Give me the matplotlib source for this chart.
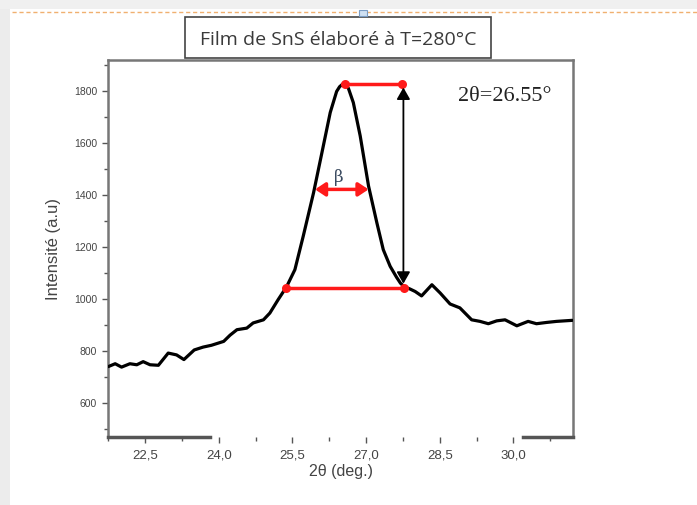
import matplotlib
matplotlib.use("Agg")
import matplotlib.pyplot as plt
from matplotlib.patches import Rectangle, FancyArrowPatch
from matplotlib.lines import Line2D
from matplotlib.ticker import MultipleLocator, FuncFormatter

# ---- data ----
two_theta = [21.75, 21.89, 22.02, 22.19, 22.33, 22.46, 22.60, 22.77, 22.97, 23.14,
             23.29, 23.50, 23.68, 23.85, 24.10, 24.23, 24.37, 24.57, 24.70, 24.91,
             25.04, 25.21, 25.38, 25.55, 25.72, 25.93, 26.10, 26.27, 26.40, 26.46,
             26.52, 26.58, 26.64, 26.74, 26.88, 27.05, 27.22, 27.35, 27.49, 27.62,
             27.70, 27.78, 27.89, 28.00, 28.13, 28.34, 28.51, 28.71, 28.91, 29.15,
             29.32, 29.49, 29.66, 29.83, 30.07, 30.30, 30.47, 30.68, 30.88, 31.20]
intensity = [741, 752, 739, 752, 748, 760, 748, 746, 793, 786,
             768, 805, 816, 823, 838, 862, 883, 889, 909, 921,
             947, 999, 1048, 1114, 1243, 1410, 1564, 1719, 1800, 1818,
             1828, 1826, 1812, 1757, 1629, 1436, 1294, 1191, 1127, 1085,
             1062, 1048, 1040, 1030, 1013, 1056, 1024, 982, 967, 921,
             915, 906, 917, 921, 898, 915, 906, 911, 915, 919]

x_ticks = [22.5, 24.0, 25.5, 27.0, 28.5, 30.0]
y_ticks = [600, 800, 1000, 1200, 1400, 1600, 1800]

title_text = "Film de SnS élaboré à T=280°C"
peak_label = "2θ=26.55°"
x_label = "2θ (deg.)"
y_label = "Intensité (a.u)"

# annotation geometry (data units)
top_line_x = [26.57, 27.73]
top_line_y = [1828, 1828]
base_line_x = [25.37, 27.78]
base_line_y = [1045, 1045]
beta_x = [25.96, 27.05]
beta_y = 1423
height_arrow_x = 27.76
height_arrow_y = [1815, 1060]

W, H = 697, 505
fig = plt.figure(figsize=(W / 100, H / 100), dpi=100)
fig.patch.set_facecolor("white")

def fx(px):
    return px / W

def fy(py):
    return 1 - py / H

# page decorations
fig.add_artist(Rectangle((0, 0), fx(10), 1, transform=fig.transFigure,
                         facecolor="#ececec", edgecolor="none", zorder=0))
fig.add_artist(Rectangle((0, fy(9)), 1, 9 / H, transform=fig.transFigure,
                         facecolor="#f0f0f0", edgecolor="none", zorder=0))
fig.add_artist(Line2D([fx(12), 1], [fy(12), fy(12)], transform=fig.transFigure,
                      color="#f0b070", lw=1, ls=(0, (3, 2)), zorder=1))

ax = fig.add_axes([fx(108.3), fy(437), fx(573.3) - fx(108.3), fy(60) - fy(437)])
ax.set_xlim(21.75, 31.22)
ax.set_ylim(470, 1921)

ax.plot(two_theta, intensity, color="black", lw=2.3, solid_joinstyle="round",
        solid_capstyle="round", zorder=3)

red = "#ff1a1a"
ax.plot(top_line_x, top_line_y, color=red, lw=2.5, marker="o", ms=6.5,
        markeredgewidth=0, zorder=4)
ax.plot(base_line_x, base_line_y, color=red, lw=2.5, marker="o", ms=6.5,
        markeredgewidth=0, zorder=4)
ax.add_patch(FancyArrowPatch((beta_x[0], beta_y), (beta_x[1], beta_y),
                             arrowstyle="<|-|>,head_length=6,head_width=4",
                             color=red, lw=2.5, shrinkA=0, shrinkB=0, zorder=4))
ax.add_patch(FancyArrowPatch((height_arrow_x, height_arrow_y[0]),
                             (height_arrow_x, height_arrow_y[1]),
                             arrowstyle="<|-|>,head_length=7,head_width=4",
                             color="black", lw=1.3, shrinkA=0, shrinkB=0, zorder=4))
ax.text(26.45, 1468, "β", color="#3a4a60", fontsize=12,
        family="DejaVu Serif", ha="center", va="center", zorder=5)
ax.text(28.88, 1782, peak_label, color="#222222", fontsize=16,
        family="Liberation Serif", ha="left", va="center", zorder=5)

# axes styling
spine_c = "#777777"
for s in ["left", "right", "top"]:
    ax.spines[s].set_color(spine_c)
    ax.spines[s].set_linewidth(1.8)
ax.spines["bottom"].set_visible(False)
# bottom frame visible only partially, as in the reference
ax.plot([0, 0.219], [0, 0], transform=ax.transAxes, color="#555555", lw=2.5,
        clip_on=False, zorder=5)
ax.plot([0.892, 1], [0, 0], transform=ax.transAxes, color="#555555", lw=2.5,
        clip_on=False, zorder=5)

ax.set_xticks(x_ticks)
ax.set_yticks(y_ticks)
ax.xaxis.set_minor_locator(MultipleLocator(0.75))
ax.yaxis.set_minor_locator(MultipleLocator(100))
ax.xaxis.set_major_formatter(FuncFormatter(lambda v, p: f"{v:.1f}".replace(".", ",")))
ax.tick_params(axis="both", which="major", direction="out", length=4, width=1,
               color="#555555", labelcolor="#444444")
ax.tick_params(axis="both", which="minor", direction="out", length=3, width=1,
               color="#555555")
ax.tick_params(axis="x", which="both", top=False, pad=5, labelsize=9.5)
ax.tick_params(axis="y", which="both", right=False, pad=4, labelsize=7.5)
for lab in ax.get_xticklabels() + ax.get_yticklabels():
    lab.set_family("Liberation Sans")

ax.set_xlabel(x_label, fontsize=11.5, color="#444444", family="Liberation Sans",
              labelpad=2)
ax.set_ylabel(y_label, fontsize=12, color="#444444", family="Liberation Sans",
              labelpad=9)

# title box
fig.add_artist(Rectangle((fx(185), fy(58)), fx(491) - fx(185), fy(17) - fy(58),
                         transform=fig.transFigure, facecolor="white",
                         edgecolor="#444444", lw=1.2, zorder=6))
fig.text(fx(338), fy(40), title_text, fontsize=14, color="#3a3a3a",
         family="Open Sans", ha="center", va="center", zorder=7)
fig.add_artist(Rectangle((fx(359), fy(16)), 8 / W, 6 / H, transform=fig.transFigure,
                         facecolor="#cfe0f2", edgecolor="#7a9cc4", lw=0.8, zorder=8))

fig.savefig("out.png", dpi=100, facecolor=fig.get_facecolor())
